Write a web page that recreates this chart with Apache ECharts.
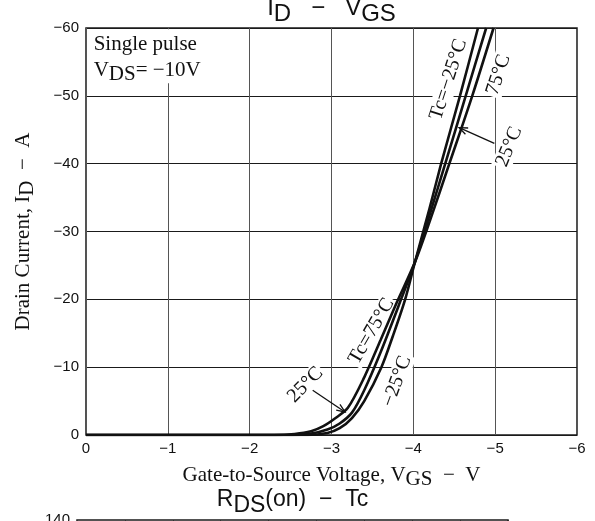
<!DOCTYPE html>
<html><head><meta charset="utf-8">
<script src="https://cdn.jsdelivr.net/npm/echarts@6/dist/echarts.min.js"></script>
<style>html,body{margin:0;padding:0;background:#fff}#c{width:595px;height:521px}</style>
</head><body><div id="c"></div>
<script>
// ---- data (VGS in V, ID in A) ----
const xTicks = [0, -1, -2, -3, -4, -5, -6];
const yTicks = [0, -10, -20, -30, -40, -50, -60];
const vgsM25 = [0, -2.7, -2.95, -3.1, -3.25, -3.4, -3.61, -3.75, -3.9, -4.02, -4.2, -4.34, -4.57, -4.79];
const idM25  = [0, 0, -0.3, -1.0, -2.5, -5.0, -10, -14.6, -20, -25.5, -33.5, -40, -50, -60];
const vgs25  = [0, -2.5, -2.75, -2.95, -3.1, -3.25, -3.4, -3.6, -3.85, -4.02, -4.2, -4.39, -4.64, -4.89];
const id25   = [0, 0, -0.2, -0.8, -1.7, -3.3, -6.6, -12.2, -20, -25.5, -32.5, -40, -50, -60];
const vgs75  = [0, -2.3, -2.55, -2.75, -2.9, -3.05, -3.2, -3.4, -3.6, -3.8, -4.02, -4.2, -4.44, -4.72, -4.98];
const id75   = [0, 0, -0.15, -0.55, -1.3, -2.5, -4.0, -8.5, -14, -19.6, -25.5, -31.5, -40, -50, -60];
const curveNames = ['Tc=-25°C', 'Tc=25°C', 'Tc=75°C'];
const labelTexts = ['Tc=\u221225°C', '75°C', '25°C', 'Tc=75°C', '\u221225°C', '25°C'];

const SANS = 'Liberation Sans, Arial, sans-serif';
const SERIF = 'Liberation Serif, Times New Roman, serif';
const INK = '#111';
const fmt = v => v === 0 ? '0' : '\u2212' + Math.abs(v);
const zip = (a, b) => a.map((v, i) => [v, b[i]]);

const chart = echarts.init(document.getElementById('c'), null, {renderer: 'canvas'});

const lineSeries = (name, xs, ys) => ({
  name, type: 'line', xAxisIndex: 0, yAxisIndex: 0, data: zip(xs, ys),
  smooth: 0.3, showSymbol: false, symbol: 'none',
  lineStyle: {color: INK, width: 2.6}, z: 2
});

const option = {
  animation: false,
  backgroundColor: '#fff',
  grid: [
    {left: 86, top: 28, width: 491, height: 407, show: true, borderColor: '#1a1a1a', borderWidth: 1.5, backgroundColor: 'transparent'},
    {left: 77, top: 520, width: 431, height: 300, show: true, borderColor: '#1a1a1a', borderWidth: 1.5, backgroundColor: 'transparent'}
  ],
  xAxis: [
    {type: 'value', gridIndex: 0, min: -6, max: 0, interval: 1, inverse: true,
     axisLine: {show: false}, axisTick: {show: false},
     axisLabel: {formatter: fmt, color: INK, fontFamily: SANS, fontSize: 15, margin: 6},
     splitLine: {show: true, lineStyle: {color: '#555', width: 1}},
     name: 'Gate-to-Source Voltage, V{s|GS}  \u2212  V', nameLocation: 'middle', nameGap: 26,
     nameTextStyle: {fontFamily: SERIF, fontSize: 21, color: INK,
       rich: {s: {fontFamily: SERIF, fontSize: 21, color: INK, padding: [8, 0, 0, 0]}}}},
    {type: 'value', gridIndex: 1, min: 0, max: 9, interval: 1,
     axisLine: {show: false}, axisTick: {show: false}, axisLabel: {show: false},
     splitLine: {show: true, lineStyle: {color: '#333', width: 1}}}
  ],
  yAxis: [
    {type: 'value', gridIndex: 0, min: -60, max: 0, interval: 10, inverse: true,
     axisLine: {show: false}, axisTick: {show: false},
     axisLabel: {formatter: fmt, color: INK, fontFamily: SANS, fontSize: 15, margin: 7},
     splitLine: {show: true, lineStyle: {color: '#1a1a1a', width: 1}},
     name: 'Drain Current, I{s|D}  \u2212  A', nameLocation: 'middle', nameGap: 48, nameRotate: 90,
     nameTextStyle: {fontFamily: SERIF, fontSize: 21, color: INK,
       rich: {s: {fontFamily: SERIF, fontSize: 21, color: INK, padding: [8, 0, 0, 0]}}}},
    {type: 'value', gridIndex: 1, min: 0, max: 140, interval: 20,
     axisLine: {show: false}, axisTick: {show: false},
     axisLabel: {show: true, showMaxLabel: true, color: INK, fontFamily: SANS, fontSize: 15, margin: 7},
     splitLine: {show: false}}
  ],
  series: [
    lineSeries(curveNames[0], vgsM25, idM25),
    lineSeries(curveNames[1], vgs25, id25),
    lineSeries(curveNames[2], vgs75, id75)
  ]
};
chart.setOption(option);

// ---- annotations (positions in data coordinates) ----
const P = (x, y) => chart.convertToPixel({gridIndex: 0}, [x, y]);
const labelPos = [[-4.43, -52.4], [-5.04, -53.1], [-5.17, -42.5], [-3.49, -15.3], [-3.80, -7.9], [-2.68, -7.4]];
const labelRot = [72, 72, 68, 60, 70, 45];
const arrows = [[[-4.99, -43.0], [-4.56, -45.3]], [[-2.77, -6.6], [-3.165, -3.4]]];

const elements = [];
const titleRich = {
  m: {fontFamily: SANS, fontSize: 24, fill: INK},
  s: {fontFamily: SANS, fontSize: 24, fill: INK, padding: [12, 0, 0, 0]}
};
const titleRich2 = {
  m: {fontFamily: SANS, fontSize: 23, fill: INK},
  s: {fontFamily: SANS, fontSize: 23, fill: INK, padding: [12, 0, 0, 0]}
};
const topLeft = P(0, -60), botRight = P(-6, 0);
elements.push({type: 'text', x: (topLeft[0] + botRight[0]) / 2, y: -10, z: 5,
  style: {text: '{m|I}{s|D}{m|   \u2212   V}{s|GS}', rich: titleRich, align: 'center', verticalAlign: 'top', textAlign: 'center', textVerticalAlign: 'top'}});
elements.push({type: 'text', x: 292.5, y: 482, z: 5,
  style: {text: '{m|R}{s|DS}{m|(on)  \u2212  Tc}', rich: titleRich2, align: 'center', verticalAlign: 'top', textAlign: 'center', textVerticalAlign: 'top'}});

// condition box
const boxAnchor = P(-0.02, -59.8);
elements.push({type: 'text', x: boxAnchor[0], y: boxAnchor[1], z: 1,
  style: {text: '{a|Single pulse}\n{a|V}{s|DS}{a|= \u221210V}',
    rich: {a: {fontFamily: SERIF, fontSize: 21, fill: INK, lineHeight: 26},
           s: {fontFamily: SERIF, fontSize: 21, fill: INK, lineHeight: 26, padding: [8, 0, 0, 0]}},
    backgroundColor: '#fff', padding: [2, 10, 0, 6], align: 'left', verticalAlign: 'top', textAlign: 'left', textVerticalAlign: 'top'}});

labelTexts.forEach((t, i) => {
  const p = P(labelPos[i][0], labelPos[i][1]);
  elements.push({type: 'text', x: p[0], y: p[1], rotation: labelRot[i] * Math.PI / 180, z: 1,
    style: {text: t, fontFamily: SERIF, fontSize: 20, fill: INK, backgroundColor: '#fff', padding: [0, 2],
      align: 'center', verticalAlign: 'middle', textAlign: 'center', textVerticalAlign: 'middle'}});
});

arrows.forEach(a => {
  const s = P(a[0][0], a[0][1]), e = P(a[1][0], a[1][1]);
  const dx = s[0] - e[0], dy = s[1] - e[1], L = Math.hypot(dx, dy);
  const ux = dx / L, uy = dy / L, hl = 9, ang = 22 * Math.PI / 180;
  const rot = (c, sn) => [e[0] + hl * (ux * c - uy * sn), e[1] + hl * (ux * sn + uy * c)];
  const h1 = rot(Math.cos(ang), Math.sin(ang)), h2 = rot(Math.cos(ang), -Math.sin(ang));
  elements.push({type: 'polyline', z: 3, shape: {points: [s, e]}, style: {stroke: INK, lineWidth: 1.3, fill: null}});
  elements.push({type: 'polyline', z: 3, shape: {points: [h1, e, h2]}, style: {stroke: INK, lineWidth: 1.3, fill: null}});
});

chart.setOption({graphic: {elements}});
</script>
</body></html>
